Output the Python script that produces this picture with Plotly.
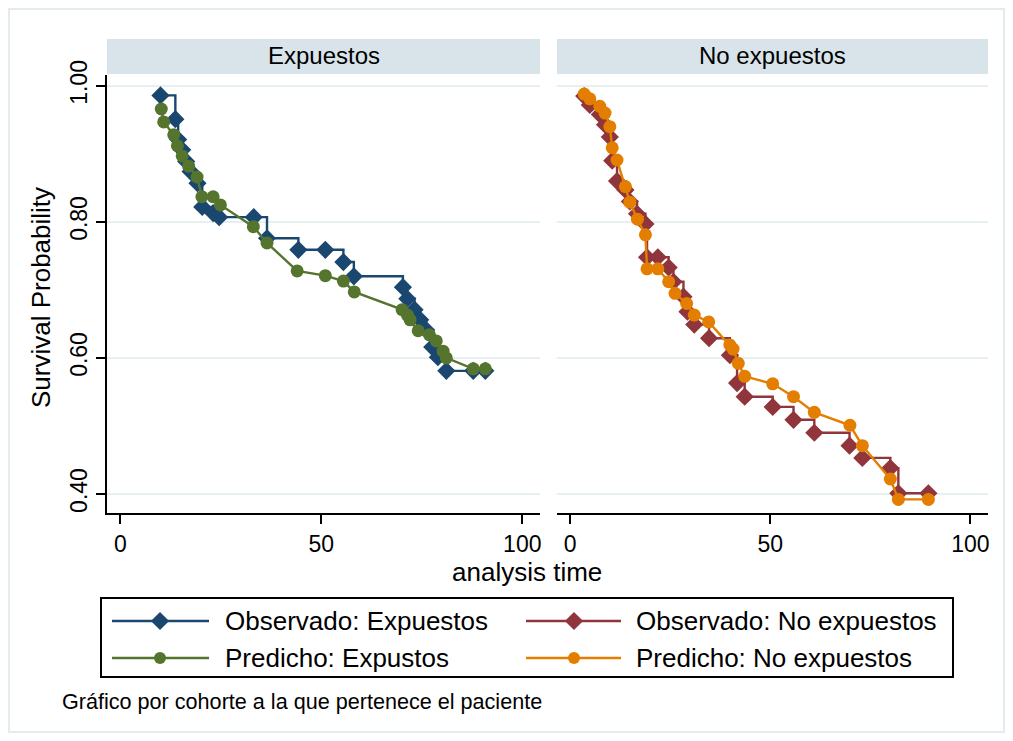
import plotly.graph_objects as go

# page body has an 8px margin; the figure is sized to fit inside the 1013x741 window
OFF = 8
W, H = 1013 - 2 * OFF, 741 - 2 * OFF

# ---------------- data ----------------
panels = ["Expuestos", "No expuestos"]
legend_labels = ["Observado: Expuestos", "Predicho: Expustos",
                 "Observado: No expuestos", "Predicho: No expuestos"]
x_ticks = [0, 50, 100]
y_ticks = [0.40, 0.60, 0.80, 1.00]
y_tick_labels = ["0.40", "0.60", "0.80", "1.00"]
x_title = "analysis time"
y_title = "Survival Probability"
note = "Gráfico por cohorte a la que pertenece el paciente"

# Observed (Kaplan-Meier), Expuestos
obs_exp_t = [10.0, 13.7, 14.4, 15.4, 16.4, 17.5, 19.2, 20.4, 23.1, 24.6, 33.2, 36.5,
             44.3, 51.0, 55.5, 58.1, 70.3, 71.4, 73.2, 74.6, 76.1, 77.6, 79.0, 81.1,
             87.8, 90.8]
obs_exp_s = [0.986, 0.951, 0.921, 0.906, 0.889, 0.874, 0.857, 0.822, 0.813, 0.807,
             0.807, 0.776, 0.759, 0.759, 0.741, 0.720, 0.704, 0.687, 0.671, 0.656,
             0.641, 0.616, 0.601, 0.581, 0.581, 0.581]

# Predicted (Cox), Expuestos
pred_exp_t = [10.2, 10.8, 13.3, 14.2, 15.4, 17.0, 19.1, 20.3, 23.1, 24.9, 33.1, 36.5,
              44.0, 51.0, 55.5, 58.2, 70.1, 71.4, 72.1, 74.1, 76.9, 78.6, 80.3, 81.1,
              87.8, 90.8]
pred_exp_s = [0.966, 0.947, 0.928, 0.912, 0.897, 0.882, 0.866, 0.837, 0.837, 0.825,
              0.793, 0.769, 0.728, 0.721, 0.713, 0.697, 0.671, 0.663, 0.656, 0.640,
              0.634, 0.625, 0.610, 0.600, 0.584, 0.584]

# Observed (Kaplan-Meier), No expuestos
obs_noexp_t = [3.5, 4.9, 7.4, 8.7, 9.9, 10.5, 11.7, 13.8, 14.9, 16.7, 18.8, 19.2, 21.9,
               24.6, 25.8, 28.3, 29.3, 31.0, 34.7, 39.9, 41.7, 43.6, 50.6, 55.8, 61.0,
               69.8, 73.0, 80.0, 82.0, 89.5]
obs_noexp_s = [0.985, 0.972, 0.958, 0.943, 0.925, 0.890, 0.860, 0.847, 0.830, 0.812,
               0.797, 0.748, 0.748, 0.733, 0.712, 0.690, 0.668, 0.649, 0.629, 0.604,
               0.563, 0.543, 0.528, 0.509, 0.490, 0.471, 0.453, 0.438, 0.401, 0.401]

# Predicted (Cox), No expuestos
pred_noexp_t = [3.5, 4.9, 7.4, 8.7, 9.9, 10.5, 11.7, 13.8, 14.9, 16.8, 18.8, 19.2, 21.9,
                24.6, 26.2, 29.1, 31.0, 34.6, 39.9, 40.7, 42.0, 43.6, 50.6, 55.8, 61.0,
                69.9, 73.0, 80.0, 82.0, 89.5]
pred_noexp_s = [0.988, 0.981, 0.970, 0.960, 0.940, 0.909, 0.891, 0.852, 0.829, 0.804,
                0.781, 0.731, 0.731, 0.712, 0.695, 0.680, 0.663, 0.653, 0.619, 0.613,
                0.592, 0.573, 0.562, 0.543, 0.520, 0.501, 0.471, 0.422, 0.392, 0.392]

# ---------------- style ----------------
C_NAVY = "#1a476f"
C_GREEN = "#55752f"
C_MAROON = "#90353b"
C_ORANGE = "#e37e00"
FONT = "Liberation Sans"
GRID = "#e6eff1"
STRIP = "#d8e4ea"


def px(x):
    """window pixel x -> paper fraction"""
    return (x - OFF) / W


def py(y):
    """window pixel y -> paper fraction"""
    return 1 - (y - OFF) / H


fig = go.Figure()

series = [
    (obs_exp_t, obs_exp_s, C_NAVY, "diamond", 14, "hv", "x", "y", legend_labels[0]),
    (pred_exp_t, pred_exp_s, C_GREEN, "circle", 13, "linear", "x", "y", legend_labels[1]),
    (obs_noexp_t, obs_noexp_s, C_MAROON, "diamond", 14, "hv", "x2", "y2", legend_labels[2]),
    (pred_noexp_t, pred_noexp_s, C_ORANGE, "circle", 13, "linear", "x2", "y2", legend_labels[3]),
]
for t, s, col, sym, size, shape, xa, ya, name in series:
    fig.add_trace(go.Scatter(
        x=t, y=s, mode="lines+markers", name=name, showlegend=False,
        line=dict(color=col, width=2.4, shape=shape),
        marker=dict(color=col, symbol=sym, size=size, opacity=1, line=dict(width=0)),
        xaxis=xa, yaxis=ya))

# ---- manual legend (samples drawn on a pixel-coordinate overlay axis) ----
leg_cols = [(112, 160, 209, 223), (526, 574, 621, 634)]
leg_rows = [621, 658]
leg_items = [
    (0, 0, C_NAVY, "diamond", legend_labels[0]),
    (0, 1, C_GREEN, "circle", legend_labels[1]),
    (1, 0, C_MAROON, "diamond", legend_labels[2]),
    (1, 1, C_ORANGE, "circle", legend_labels[3]),
]
annotations = []
for ci, ri, col, sym, label in leg_items:
    x0, xm, x1, xt = leg_cols[ci]
    yy = leg_rows[ri]
    fig.add_trace(go.Scatter(
        x=[x0, x1], y=[yy, yy], mode="lines", showlegend=False, hoverinfo="skip",
        line=dict(color=col, width=2.4), xaxis="x3", yaxis="y3"))
    fig.add_trace(go.Scatter(
        x=[xm], y=[yy], mode="markers", showlegend=False, hoverinfo="skip",
        marker=dict(color=col, symbol=sym, size=14 if sym == "diamond" else 12,
                    opacity=1, line=dict(width=0)),
        xaxis="x3", yaxis="y3"))
    annotations.append(dict(x=px(xt), y=py(yy), xref="paper", yref="paper", text=label,
                            showarrow=False, xanchor="left", yanchor="middle",
                            font=dict(family=FONT, size=26, color="black")))

# strip titles
strips = [(107, 540), (557, 988)]
shapes = [
    dict(type="rect", xref="paper", yref="paper", x0=px(9), x1=px(1004), y0=py(732), y1=py(9),
         line=dict(color="#e3ebee", width=2), fillcolor="rgba(0,0,0,0)", layer="below"),
    dict(type="rect", xref="paper", yref="paper", x0=px(101), x1=px(953), y0=py(677), y1=py(598),
         line=dict(color="black", width=2), fillcolor="rgba(0,0,0,0)"),
]
for (a, b), title in zip(strips, panels):
    shapes.append(dict(type="rect", xref="paper", yref="paper", x0=px(a), x1=px(b),
                       y0=py(74), y1=py(39), line=dict(width=0), fillcolor=STRIP, layer="below"))
    annotations.append(dict(x=px((a + b) / 2), y=py(55), xref="paper", yref="paper", text=title,
                            showarrow=False, xanchor="center", yanchor="middle",
                            font=dict(family=FONT, size=24, color="black")))

annotations.append(dict(x=px(41), y=py(298), xref="paper", yref="paper", text=y_title,
                        textangle=-90, showarrow=False, xanchor="center", yanchor="middle",
                        font=dict(family=FONT, size=26, color="black")))
annotations.append(dict(x=px(527), y=py(572), xref="paper", yref="paper", text=x_title,
                        showarrow=False, xanchor="center", yanchor="middle",
                        font=dict(family=FONT, size=26, color="black")))
annotations.append(dict(x=px(60), y=py(701), xref="paper", yref="paper", text=note,
                        showarrow=False, xanchor="left", yanchor="middle",
                        font=dict(family=FONT, size=21.6, color="black")))

ydom = [py(513), py(75)]
yrange = [0.372, 1.016]
xrange_ = [-3.3, 104.4]

xcommon = dict(range=xrange_, tickvals=x_ticks, ticks="outside", ticklen=9, tickwidth=2,
               tickcolor="black", showline=True, linecolor="black", linewidth=2,
               showgrid=False, zeroline=False, tickfont=dict(family=FONT, size=23, color="black"),
               fixedrange=True, automargin=False)

fig.update_layout(
    width=W, height=H, autosize=False,
    margin=dict(l=0, r=0, t=0, b=0, pad=0, autoexpand=False),
    paper_bgcolor="white", plot_bgcolor="rgba(0,0,0,0)",
    showlegend=False,
    font=dict(family=FONT, color="black"),
    xaxis=dict(domain=[px(107), px(540)], anchor="y", **xcommon),
    xaxis2=dict(domain=[px(557), px(988)], anchor="y2", **xcommon),
    yaxis=dict(domain=ydom, anchor="x", range=yrange, tickvals=y_ticks, ticktext=y_tick_labels,
               tickangle=-90, ticks="outside", ticklen=9, tickwidth=2, tickcolor="black",
               showline=True, linecolor="black", linewidth=2, showgrid=True, gridcolor=GRID,
               gridwidth=2, zeroline=False, tickfont=dict(family=FONT, size=23, color="black"),
               fixedrange=True, automargin=False),
    yaxis2=dict(domain=ydom, anchor="x2", range=yrange, tickvals=y_ticks, showticklabels=False,
                ticks="", showline=False, showgrid=True, gridcolor=GRID, gridwidth=2,
                zeroline=False, fixedrange=True, automargin=False),
    xaxis3=dict(domain=[0, 1], anchor="y3", range=[OFF, OFF + W], visible=False,
                fixedrange=True, automargin=False),
    yaxis3=dict(domain=[0, 1], anchor="x3", range=[OFF + H, OFF], visible=False,
                fixedrange=True, automargin=False),
    shapes=shapes,
    annotations=annotations,
)

fig.write_html("out.html")
